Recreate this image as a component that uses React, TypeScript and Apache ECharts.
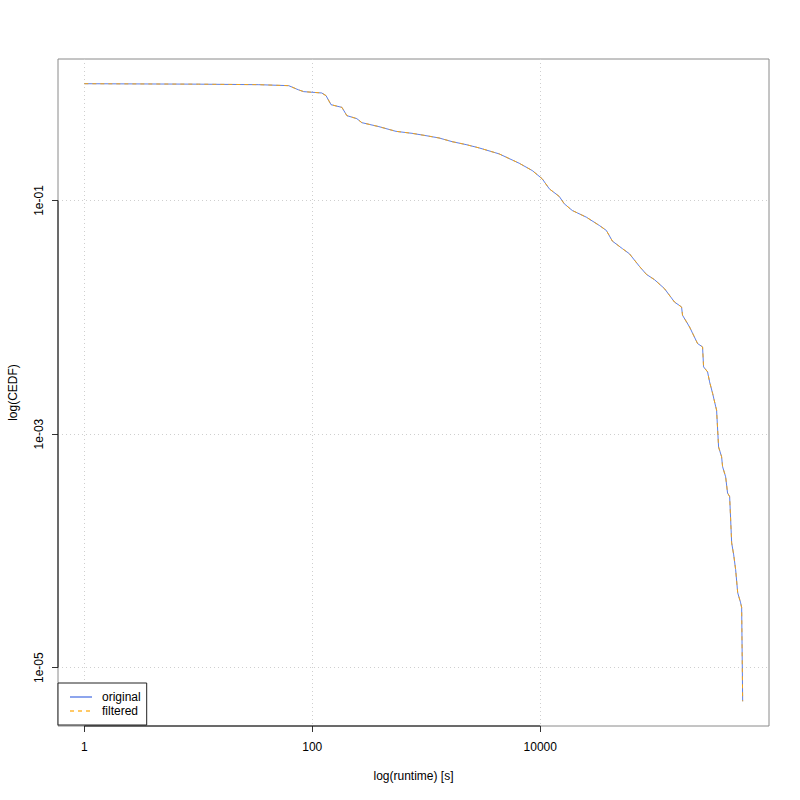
import React, { useEffect, useRef } from "react";
import * as echarts from "echarts";

const runtime = [
  1, 10, 33.9, 62.1, 76.1, 84.2, 121, 132, 146, 182, 201, 246, 272, 384, 542, 749,
  995, 1295, 1684, 2235, 2909, 4362, 6536, 8507, 10410, 12000, 14690, 16250, 19100,
  25350, 33000, 38020, 42950, 52570, 60560, 74150, 85440, 100500, 123000, 150600,
  173700, 177200, 204200, 240000, 265600, 271000, 293800, 306000, 325300, 345400,
  352500, 367000, 390000, 398000, 423000, 440000, 459000, 478000, 498000, 518000,
  540000, 573000, 585000, 597000,
];
const originalCedf = [
  1, 0.991, 0.981, 0.962, 0.884, 0.855, 0.833, 0.79, 0.661, 0.627, 0.533, 0.502,
  0.464, 0.429, 0.391, 0.376, 0.359, 0.343, 0.319, 0.301, 0.282, 0.2506, 0.2084,
  0.1805, 0.1533, 0.1259, 0.1082, 0.0937, 0.0821, 0.072, 0.0611, 0.0554, 0.0449,
  0.0387, 0.035, 0.0273, 0.0233, 0.021, 0.01759, 0.01351, 0.01225, 0.0104, 0.00826,
  0.00596, 0.00557, 0.00376, 0.00341, 0.0028, 0.00223, 0.001735, 0.001603, 0.000774,
  0.00064, 0.000525, 0.000431, 0.000313, 0.000291, 0.000117, 0.0000924, 0.0000689,
  0.0000438, 0.0000359, 0.0000326, 0.00000515,
];
const filteredCedf = [
  1, 0.991, 0.981, 0.962, 0.884, 0.855, 0.833, 0.79, 0.661, 0.627, 0.533, 0.502,
  0.464, 0.429, 0.391, 0.376, 0.359, 0.343, 0.319, 0.301, 0.282, 0.2506, 0.2084,
  0.1805, 0.1533, 0.1259, 0.1082, 0.0937, 0.0821, 0.072, 0.0611, 0.0554, 0.0449,
  0.0387, 0.035, 0.0273, 0.0233, 0.021, 0.01759, 0.01351, 0.01225, 0.0104, 0.00826,
  0.00596, 0.00557, 0.00376, 0.00341, 0.0028, 0.00223, 0.001735, 0.001603, 0.000774,
  0.00064, 0.000525, 0.000431, 0.000313, 0.000291, 0.000117, 0.0000924, 0.0000689,
  0.0000438, 0.0000359, 0.0000326, 0.00000515,
];
const seriesNames = ["original", "filtered"];
const xLabelExponents = [0, 2, 4];
const yLabelExponents = [-1, -3, -5];

const FONT = "'Liberation Sans', Arial, Helvetica, sans-serif";

export default function App() {
  const ref = useRef<HTMLDivElement>(null);

  useEffect(() => {
    if (!ref.current) return;
    const chart = echarts.init(ref.current, null, { renderer: "svg" });

    const lx = runtime.map((v) => Math.log10(v));
    const ly = originalCedf.map((v) => Math.log10(v));
    const xr = [Math.min(...lx), Math.max(...lx)];
    const yr = [Math.min(...ly), Math.max(...ly)];
    const xe = (xr[1] - xr[0]) * 0.04;
    const ye = (yr[1] - yr[0]) * 0.04;
    const xMin = xr[0] - xe;
    const xMax = xr[1] + xe;
    const yMin = yr[0] - ye;
    const yMax = yr[1] + ye;

    const orig = runtime.map((r, i) => [Math.log10(r), Math.log10(originalCedf[i])]);
    const filt = runtime.map((r, i) => [Math.log10(r), Math.log10(filteredCedf[i])]);

    const fmtX = (v: number) => {
      const e = Math.round(v);
      if (Math.abs(v - e) > 1e-6) return "";
      return String(Math.pow(10, e));
    };
    const fmtY = (v: number) => {
      const e = Math.round(v);
      if (Math.abs(v - e) > 1e-6) return "";
      const a = Math.abs(e);
      return "1e" + (e < 0 ? "-" : "+") + (a < 10 ? "0" + a : String(a));
    };

    const gridLine = { show: true, lineStyle: { color: "#cfcfcf", type: [1, 3], width: 1 } };

    chart.setOption({
      animation: false,
      textStyle: { fontFamily: FONT },
      grid: {
        left: 58,
        right: 31,
        top: 59,
        bottom: 74,
        show: true,
        borderColor: "#8a8a8a",
        borderWidth: 1,
        backgroundColor: "transparent",
      },
      xAxis: {
        type: "value",
        min: xMin,
        max: xMax,
        splitNumber: 6,
        axisLine: { show: false, onZero: false },
        axisTick: {
          show: true,
          customValues: xLabelExponents,
          length: 6,
          lineStyle: { color: "#333" },
        },
        axisLabel: {
          customValues: xLabelExponents,
          formatter: fmtX,
          fontSize: 12,
          color: "#000",
          margin: 15,
          fontFamily: FONT,
        },
        splitLine: gridLine,
      },
      yAxis: {
        type: "value",
        min: yMin,
        max: yMax,
        splitNumber: 6,
        axisLine: { show: false, onZero: false },
        axisTick: {
          show: true,
          customValues: yLabelExponents,
          length: 6,
          lineStyle: { color: "#333" },
        },
        axisLabel: {
          customValues: yLabelExponents,
          formatter: fmtY,
          rotate: 90,
          fontSize: 12,
          color: "#000",
          margin: 13,
          fontFamily: FONT,
        },
        splitLine: gridLine,
      },
      legend: {
        data: seriesNames,
        orient: "vertical",
        left: 58,
        top: 683,
        padding: [7, 6, 7, 11],
        itemGap: 0,
        itemWidth: 22,
        itemHeight: 14,
        backgroundColor: "#fff",
        borderColor: "#222",
        borderWidth: 1,
        borderRadius: 0,
        itemStyle: { opacity: 0, borderWidth: 0 },
        lineStyle: { opacity: 0.6 },
        textStyle: {
          fontSize: 12,
          color: "#000",
          fontFamily: FONT,
          lineHeight: 14,
          padding: [0, 0, 0, 5],
        },
      },
      series: [
        {
          name: seriesNames[0],
          type: "line",
          data: orig,
          symbol: "none",
          showSymbol: false,
          lineStyle: { color: "#4169E1", width: 1, opacity: 0.85 },
          itemStyle: { color: "#4169E1" },
          z: 2,
        },
        {
          name: seriesNames[1],
          type: "line",
          data: filt,
          symbol: "none",
          showSymbol: false,
          lineStyle: { color: "#FFA500", width: 1, type: [4, 4], opacity: 0.9 },
          itemStyle: { color: "#FFA500" },
          z: 3,
        },
      ],
    });

    // axis lines spanning the labelled ticks, as R draws them
    const a = chart.convertToPixel({ gridIndex: 0 }, [xLabelExponents[0], yMin]) as number[];
    const b = chart.convertToPixel(
      { gridIndex: 0 },
      [xLabelExponents[xLabelExponents.length - 1], yMin]
    ) as number[];
    const c = chart.convertToPixel({ gridIndex: 0 }, [xMin, yLabelExponents[0]]) as number[];
    const d = chart.convertToPixel(
      { gridIndex: 0 },
      [xMin, yLabelExponents[yLabelExponents.length - 1]]
    ) as number[];
    const g0 = chart.convertToPixel({ gridIndex: 0 }, [xMin, yMin]) as number[];
    const g1 = chart.convertToPixel({ gridIndex: 0 }, [xMax, yMax]) as number[];

    chart.setOption({
      graphic: [
        {
          type: "line",
          shape: { x1: a[0], y1: a[1], x2: b[0], y2: b[1] },
          style: { stroke: "#111", lineWidth: 1 },
          z: 50,
        },
        {
          type: "line",
          shape: { x1: c[0], y1: c[1], x2: d[0], y2: d[1] },
          style: { stroke: "#111", lineWidth: 1 },
          z: 50,
        },
        {
          type: "text",
          x: (g0[0] + g1[0]) / 2,
          y: 776,
          style: {
            text: "log(runtime) [s]",
            font: `12px ${FONT}`,
            fill: "#000",
            textAlign: "center",
            textVerticalAlign: "middle",
          },
        },
        {
          type: "text",
          x: 13,
          y: (g0[1] + g1[1]) / 2,
          rotation: Math.PI / 2,
          style: {
            text: "log(CEDF)",
            font: `12px ${FONT}`,
            fill: "#000",
            textAlign: "center",
            textVerticalAlign: "middle",
          },
        },
      ],
    });

    return () => chart.dispose();
  }, []);

  return (
    <div
      ref={ref}
      style={{ position: "absolute", left: 0, top: 0, width: 800, height: 800, background: "#fff" }}
    />
  );
}
